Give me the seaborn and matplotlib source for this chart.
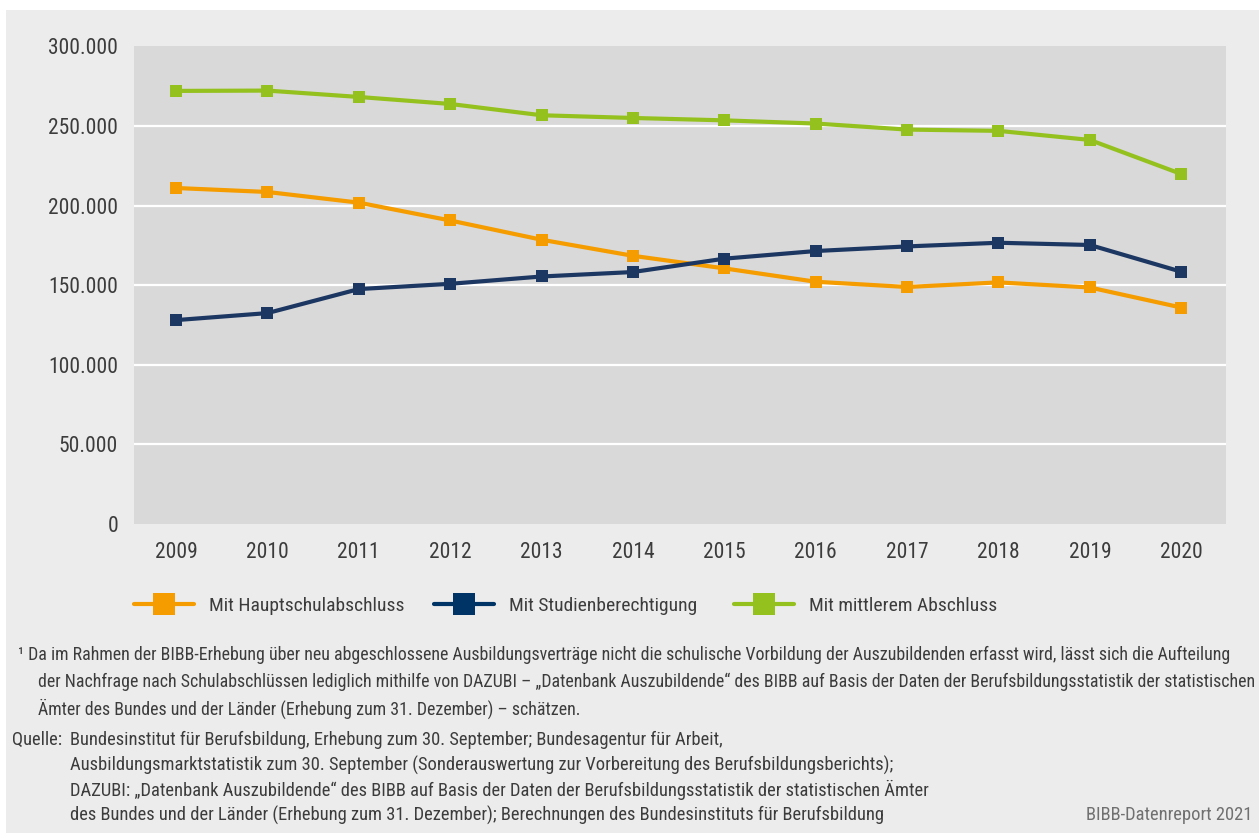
import numpy as np
import pandas as pd
import matplotlib
matplotlib.use("Agg")
import matplotlib.pyplot as plt
import seaborn as sns
from matplotlib import font_manager
from matplotlib.lines import Line2D
from matplotlib.patches import Rectangle
from matplotlib.ticker import FuncFormatter

# Daten
jahre = [2009, 2010, 2011, 2012, 2013, 2014, 2015, 2016, 2017, 2018, 2019, 2020]
hauptschule = [211100, 208600, 201900, 190700, 178600, 168500, 160600, 152200, 148900, 151800, 148600, 136000]
studienberechtigung = [128100, 132500, 147600, 150900, 155500, 158300, 166700, 171500, 174400, 176700, 175300, 158500]
mittlerer = [272100, 272300, 268300, 263900, 256800, 255100, 253600, 251600, 247800, 247000, 241300, 219900]

serien = ["Mit Hauptschulabschluss", "Mit Studienberechtigung", "Mit mittlerem Abschluss"]
farben = ["#f59c00", "#1d3763", "#95c11f"]
legenden_farben = ["#f59c00", "#003366", "#95c11f"]
y_ticks = [0, 50000, 100000, 150000, 200000, 250000, 300000]

fussnote = [
    "¹ Da im Rahmen der BIBB-Erhebung über neu abgeschlossene Ausbildungsverträge nicht die schulische Vorbildung der Auszubildenden erfasst wird, lässt sich die Aufteilung",
    "der Nachfrage nach Schulabschlüssen lediglich mithilfe von DAZUBI – „Datenbank Auszubildende“ des BIBB auf Basis der Daten der Berufsbildungsstatistik der statistischen",
    "Ämter des Bundes und der Länder (Erhebung zum 31. Dezember) – schätzen.",
]
quelle = [
    "Bundesinstitut für Berufsbildung, Erhebung zum 30. September; Bundesagentur für Arbeit,",
    "Ausbildungsmarktstatistik zum 30. September (Sonderauswertung zur Vorbereitung des Berufsbildungsberichts);",
    "DAZUBI: „Datenbank Auszubildende“ des BIBB auf Basis der Daten der Berufsbildungsstatistik der statistischen Ämter",
    "des Bundes und der Länder (Erhebung zum 31. Dezember); Berechnungen des Bundesinstituts für Berufsbildung",
]

df = pd.DataFrame({
    "Jahr": jahre * 3,
    "Wert": hauptschule + studienberechtigung + mittlerer,
    "Serie": [serien[0]] * 12 + [serien[1]] * 12 + [serien[2]] * 12,
})

sns.set_theme(style="white")

# schmale Schrift suchen, sonst Liberation Sans
fam, stretch = "Liberation Sans", "normal"
eintraege = font_manager.fontManager.ttflist
namen = {f.name for f in eintraege}
for kandidat in ["Liberation Sans Narrow", "Roboto Condensed", "Open Sans Condensed", "Noto Sans Condensed", "DejaVu Sans Condensed"]:
    if kandidat in namen:
        fam = kandidat
        break
else:
    for f in eintraege:
        if f.name in ("Noto Sans", "DejaVu Sans", "Open Sans", "Roboto") and str(f.stretch) in ("condensed", "semi-condensed", "extra-condensed"):
            fam, stretch = f.name, str(f.stretch)
            break
plt.rcParams["font.family"] = [fam, "DejaVu Sans"]
plt.rcParams["font.stretch"] = stretch

W, H = 1259, 838
fig = plt.figure(figsize=(W / 100, H / 100), dpi=100)
fig.patch.set_facecolor("white")
fig.patches.append(Rectangle((6 / W, 5 / H), 1, 1 - 15 / H, transform=fig.transFigure,
                             facecolor="#ececec", edgecolor="none", zorder=-10))

ax = fig.add_axes([134 / W, 1 - 524 / H, 1092 / W, (524 - 46.5) / H])
ax.set_facecolor("#d9d9d9")

for v in y_ticks[1:-1]:
    ax.axhline(v, color="white", lw=1.6, zorder=1)

sns.lineplot(data=df, x="Jahr", y="Wert", hue="Serie", hue_order=serien, palette=farben,
             marker="s", markersize=8.5, markeredgewidth=0, lw=3, ax=ax, legend=False, zorder=3)

ax.set_xlim(2008.54, 2020.49)
ax.set_ylim(0, 300000)
ax.set_xticks(jahre)
ax.set_yticks(y_ticks)
ax.yaxis.set_major_formatter(FuncFormatter(lambda v, p: f"{int(v):,}".replace(",", ".")))
ax.tick_params(axis="both", length=0, labelsize=15.5, labelcolor="#3c3c3c")
ax.tick_params(axis="y", pad=11.5)
ax.tick_params(axis="x", pad=13)
ax.set_xlabel("")
ax.set_ylabel("")
for s in ax.spines.values():
    s.set_visible(False)

# Legende: drei Einträge an festen Positionen
legend_x = [134, 434, 734]
for i in range(3):
    h = Line2D([], [], color=legenden_farben[i], lw=3, marker="s", markersize=16, markeredgewidth=0)
    lg = fig.legend([h], [serien[i]], loc="center left", bbox_to_anchor=(legend_x[i] / W, 1 - 606 / H),
                    frameon=False, fontsize=14, handlelength=3.1, handletextpad=0.75,
                    borderpad=0, borderaxespad=0)
    for t in lg.get_texts():
        t.set_color("#3c3c3c")

txt = dict(fontsize=12.9, color="#3c3c3c", va="center")
fig.text(18 / W, 1 - 655 / H, fussnote[0], **txt)
fig.text(38 / W, 1 - 682 / H, fussnote[1], **txt)
fig.text(38 / W, 1 - 709 / H, fussnote[2], **txt)

qtxt = dict(fontsize=13.3, color="#3c3c3c", va="center")
fig.text(12 / W, 1 - 740 / H, "Quelle:", **qtxt)
for i, zeile in enumerate(quelle):
    fig.text(70 / W, 1 - (740 + 25 * i) / H, zeile, **qtxt)
fig.text(1252 / W, 1 - 815 / H, "BIBB-Datenreport 2021", fontsize=13.3, color="#707070", va="center", ha="right")

fig.savefig("out.png", dpi=100, facecolor=fig.get_facecolor())
